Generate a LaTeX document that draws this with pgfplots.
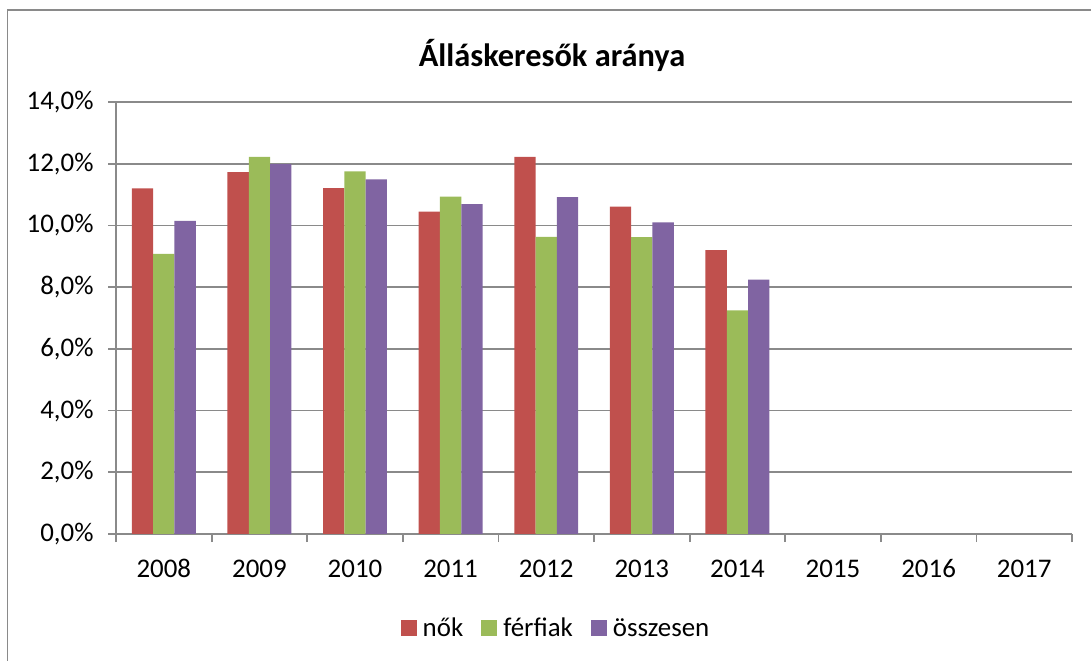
\documentclass[border=0pt]{standalone}
\usepackage{fontspec}
\setmainfont{Carlito}
\usepackage{pgfplots}
\pgfplotsset{compat=1.18}
\definecolor{cred}{HTML}{C0504D}
\definecolor{cgreen}{HTML}{9BBB59}
\definecolor{cpurple}{HTML}{8064A2}
\definecolor{cgrid}{HTML}{8A8A8A}
\begin{document}
\begin{tikzpicture}
\useasboundingbox (0bp,0bp) rectangle (1091bp,661bp);
\draw[color=cgrid, line width=1.5bp] (7.5bp,0bp) -- (7.5bp,651bp) -- (1091bp,651bp);
\node[font=\fontsize{32.5}{38}\selectfont\bfseries] at (552bp,606bp) {Álláskeresők aránya};
\begin{axis}[
  at={(116bp,127bp)}, anchor=south west,
  scale only axis, width=956bp, height=432bp,
  xmin=-0.5, xmax=9.5, ymin=0, ymax=14,
  ybar=0pt, bar width=21.3bp,
  xtick={0,...,9}, xticklabels={2008,2009,2010,2011,2012,2013,2014,2015,2016,2017},
  major x tick style={draw=none},
  minor xtick={-0.5,0.5,...,9.5},
  ytick={0,2,...,14},
  yticklabel={\pgfmathprintnumber[fixed,fixed zerofill,precision=1,use comma]{\tick}\%},
  /pgf/number format/assume math mode=true,
  ymajorgrids, grid style={color=cgrid, line width=1.8bp},
  axis x line*=bottom, axis y line*=left,
  tick align=outside, major tick length=8bp, minor tick length=8bp,
  tick style={color=cgrid, line width=1.8bp},
  axis line style={color=cgrid, line width=1.8bp},
  ticklabel style={font=\fontsize{27}{32}\selectfont},
  xticklabel style={yshift=-14bp, text height=18bp, text depth=0bp},
  yticklabel style={xshift=-11bp},
  legend columns=-1,
  legend style={draw=none, at={(0.4603,-0.2176)}, anchor=center,
    font=\fontsize{27}{32}\selectfont,
    /tikz/every odd column/.append style={column sep=4bp},
    /tikz/every even column/.append style={column sep=16bp}},
  legend image code/.code={\fill[#1] (0bp,-8bp) rectangle (16bp,8bp);},
]
\addplot[fill=cred, draw=none] coordinates {(0,11.20) (1,11.73) (2,11.21) (3,10.45) (4,12.22) (5,10.61) (6,9.20)};
\addplot[fill=cgreen, draw=none] coordinates {(0,9.08) (1,12.22) (2,11.75) (3,10.93) (4,9.63) (5,9.62) (6,7.25)};
\addplot[fill=cpurple, draw=none] coordinates {(0,10.15) (1,11.99) (2,11.49) (3,10.69) (4,10.92) (5,10.10) (6,8.24)};
\legend{nők, férfiak, összesen}
\end{axis}
\end{tikzpicture}
\end{document}
